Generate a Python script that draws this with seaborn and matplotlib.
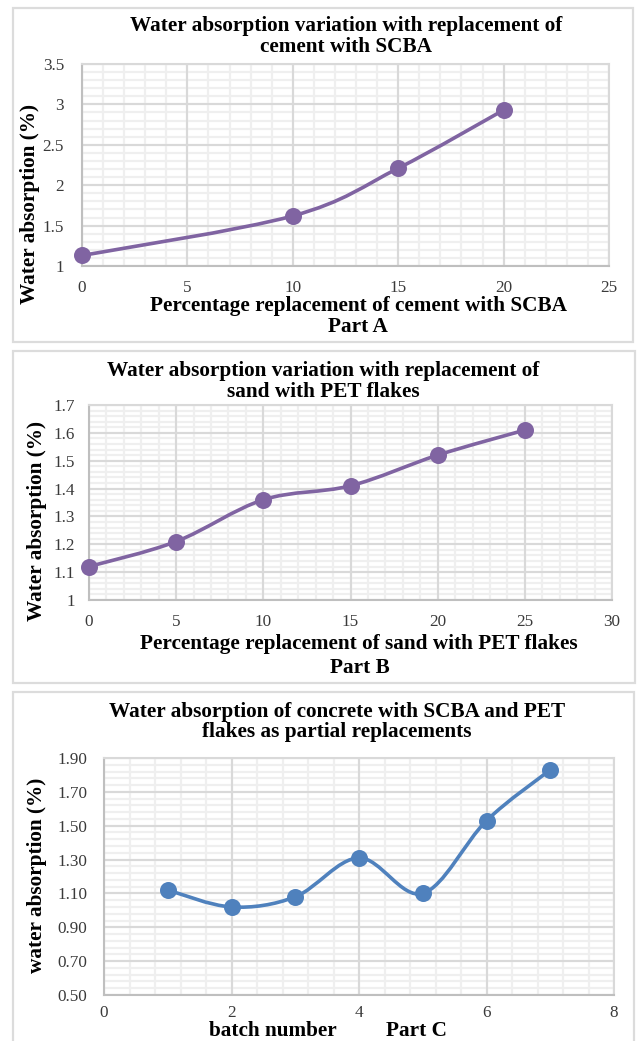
import numpy as np
import pandas as pd
import matplotlib
matplotlib.use("Agg")
import matplotlib.pyplot as plt
import seaborn as sns
from matplotlib.path import Path
from matplotlib.patches import PathPatch, Rectangle
from matplotlib.ticker import FixedLocator, FormatStrFormatter

# ---- data ----
scba_pct = [0, 10, 15, 20]
scba_absorption = [1.13, 1.62, 2.21, 2.93]

pet_pct = [0, 5, 10, 15, 20, 25]
pet_absorption = [1.12, 1.21, 1.36, 1.41, 1.52, 1.61]

batch = [1, 2, 3, 4, 5, 6, 7]
batch_absorption = [1.12, 1.02, 1.08, 1.31, 1.10, 1.53, 1.83]

titles = [
    "Water absorption variation with replacement of\ncement with SCBA",
    "Water absorption variation with replacement of\nsand with PET flakes",
    "Water absorption of concrete with SCBA and PET\nflakes as partial replacements",
]
xlabels = [
    "Percentage replacement of cement with SCBA",
    "Percentage replacement of sand with PET flakes",
    "batch number",
]
parts = ["Part A", "Part B", "Part C"]
ylabels = ["Water absorption (%)", "Water absorption (%)", "water absorption (%)"]

PURPLE = "#8064A2"
BLUE = "#4F81BD"

sns.set_theme(style="white")
plt.rcParams["font.family"] = ["Liberation Serif", "DejaVu Serif"]

W, H = 637, 1041
fig = plt.figure(figsize=(W / 100, H / 100), dpi=100)
fig.patch.set_facecolor("white")


def fx(px):
    return px / W


def fy(py):
    return 1 - py / H


def add_axes(left, right, top, bottom):
    return fig.add_axes([fx(left), fy(bottom), (right - left) / W, (bottom - top) / H])


def smooth_path(xs, ys):
    # Cardinal (Catmull-Rom style) Bezier segments through the points
    pts = np.column_stack([xs, ys]).astype(float)
    n = len(pts)
    verts = [pts[0]]
    codes = [Path.MOVETO]
    for i in range(n - 1):
        p0 = pts[i - 1] if i > 0 else pts[i]
        p1 = pts[i]
        p2 = pts[i + 1]
        p3 = pts[i + 2] if i + 2 < n else pts[i + 1]
        c1 = p1 + (p2 - p0) / 6.0
        c2 = p2 - (p3 - p1) / 6.0
        verts += [c1, c2, p2]
        codes += [Path.CURVE4] * 3
    return Path(verts, codes)


def ticks(lo, hi, step):
    n = int(round((hi - lo) / step))
    return lo + step * np.arange(n + 1)


def draw_panel(ax, xs, ys, color, xlim, xmajor, ylim, ymajor, yfmt, ypad, xpad=10):
    df = pd.DataFrame({"x": xs, "y": ys})
    xmaj, ymaj = ticks(*xlim, xmajor), ticks(*ylim, ymajor)
    xmin, ymin = ticks(*xlim, xmajor / 5), ticks(*ylim, ymajor / 5)

    # light minor grid underneath, solid major grid on top of it
    ax.vlines(xmin, *ylim, colors="#efefef", lw=1.6, zorder=0.1)
    ax.hlines(ymin, *xlim, colors="#efefef", lw=1.6, zorder=0.1)
    ax.vlines(xmaj, *ylim, colors="#d9d9d9", lw=1.5, zorder=0.2)
    ax.hlines(ymaj, *xlim, colors="#d9d9d9", lw=1.5, zorder=0.2)

    ax.add_patch(PathPatch(smooth_path(xs, ys), facecolor="none", edgecolor=color,
                           lw=2.6, zorder=3, capstyle="round", joinstyle="round"))
    sns.scatterplot(data=df, x="x", y="y", ax=ax, color=color, s=150,
                    edgecolor=color, linewidth=0, zorder=4, legend=False,
                    clip_on=False)
    ax.set_xlim(*xlim)
    ax.set_ylim(*ylim)
    ax.xaxis.set_major_locator(FixedLocator(xmaj))
    ax.yaxis.set_major_locator(FixedLocator(ymaj))
    ax.yaxis.set_major_formatter(FormatStrFormatter(yfmt))
    ax.xaxis.set_major_formatter(FormatStrFormatter("%g"))
    ax.grid(False)
    for s in ax.spines.values():
        s.set_color("#d9d9d9")
        s.set_linewidth(1.5)
    ax.spines["left"].set_color("#bfbfbf")
    ax.spines["bottom"].set_color("#bfbfbf")
    ax.tick_params(which="both", length=0, labelsize=12.3, colors="#3a3a3a")
    ax.tick_params(axis="x", pad=xpad)
    ax.tick_params(axis="y", pad=ypad)
    ax.set_xlabel("")
    ax.set_ylabel("")


def box(top, bottom, left=13, right=633):
    fig.add_artist(Rectangle((fx(left), fy(bottom)), (right - left) / W, (bottom - top) / H,
                             transform=fig.transFigure, facecolor="none",
                             edgecolor="#dcdcdc", lw=1.6))


FS = 15.3
bold = dict(fontweight="bold", color="black", fontsize=FS)

# ---- Part A ----
box(8, 342, right=633)
axA = add_axes(82, 609, 64, 266)
draw_panel(axA, scba_pct, scba_absorption, PURPLE, (0, 25), 5, (1, 3.5), 0.5, "%g", 13)
fig.text(fx(346), fy(36.5), titles[0], ha="center", va="center", linespacing=1.05, **bold)
fig.text(fx(358), fy(306), xlabels[0], ha="center", va="center", **bold)
fig.text(fx(358), fy(327), parts[0], ha="center", va="center", **bold)
fig.text(fx(30), fy(204), ylabels[0], ha="center", va="center", rotation=90, **bold)

# ---- Part B ----
box(351, 683, right=635)
axB = add_axes(89, 612, 405, 600)
draw_panel(axB, pet_pct, pet_absorption, PURPLE, (0, 30), 5, (1, 1.7), 0.1, "%g", 10)
fig.text(fx(323), fy(381.5), titles[1], ha="center", va="center", linespacing=1.05, **bold)
fig.text(fx(359), fy(644), xlabels[1], ha="center", va="center", **bold)
fig.text(fx(360), fy(668), parts[1], ha="center", va="center", **bold)
fig.text(fx(37), fy(521), ylabels[1], ha="center", va="center", rotation=90, **bold)

# ---- Part C ----
box(692, 1046, right=634)
axC = add_axes(104, 614, 758, 995)
draw_panel(axC, batch, batch_absorption, BLUE, (0, 8), 2, (0.5, 1.9), 0.2, "%.2f", 12, xpad=7)
fig.text(fx(337), fy(722), titles[2], ha="center", va="center", linespacing=1.05, **bold)
fig.text(fx(273), fy(1030.5), xlabels[2], ha="center", va="center", **bold)
fig.text(fx(417), fy(1030.5), parts[2], ha="center", va="center", **bold)
fig.text(fx(37), fy(875), ylabels[2], ha="center", va="center", rotation=90, **bold)

fig.savefig("out.png", dpi=100, facecolor="white")
